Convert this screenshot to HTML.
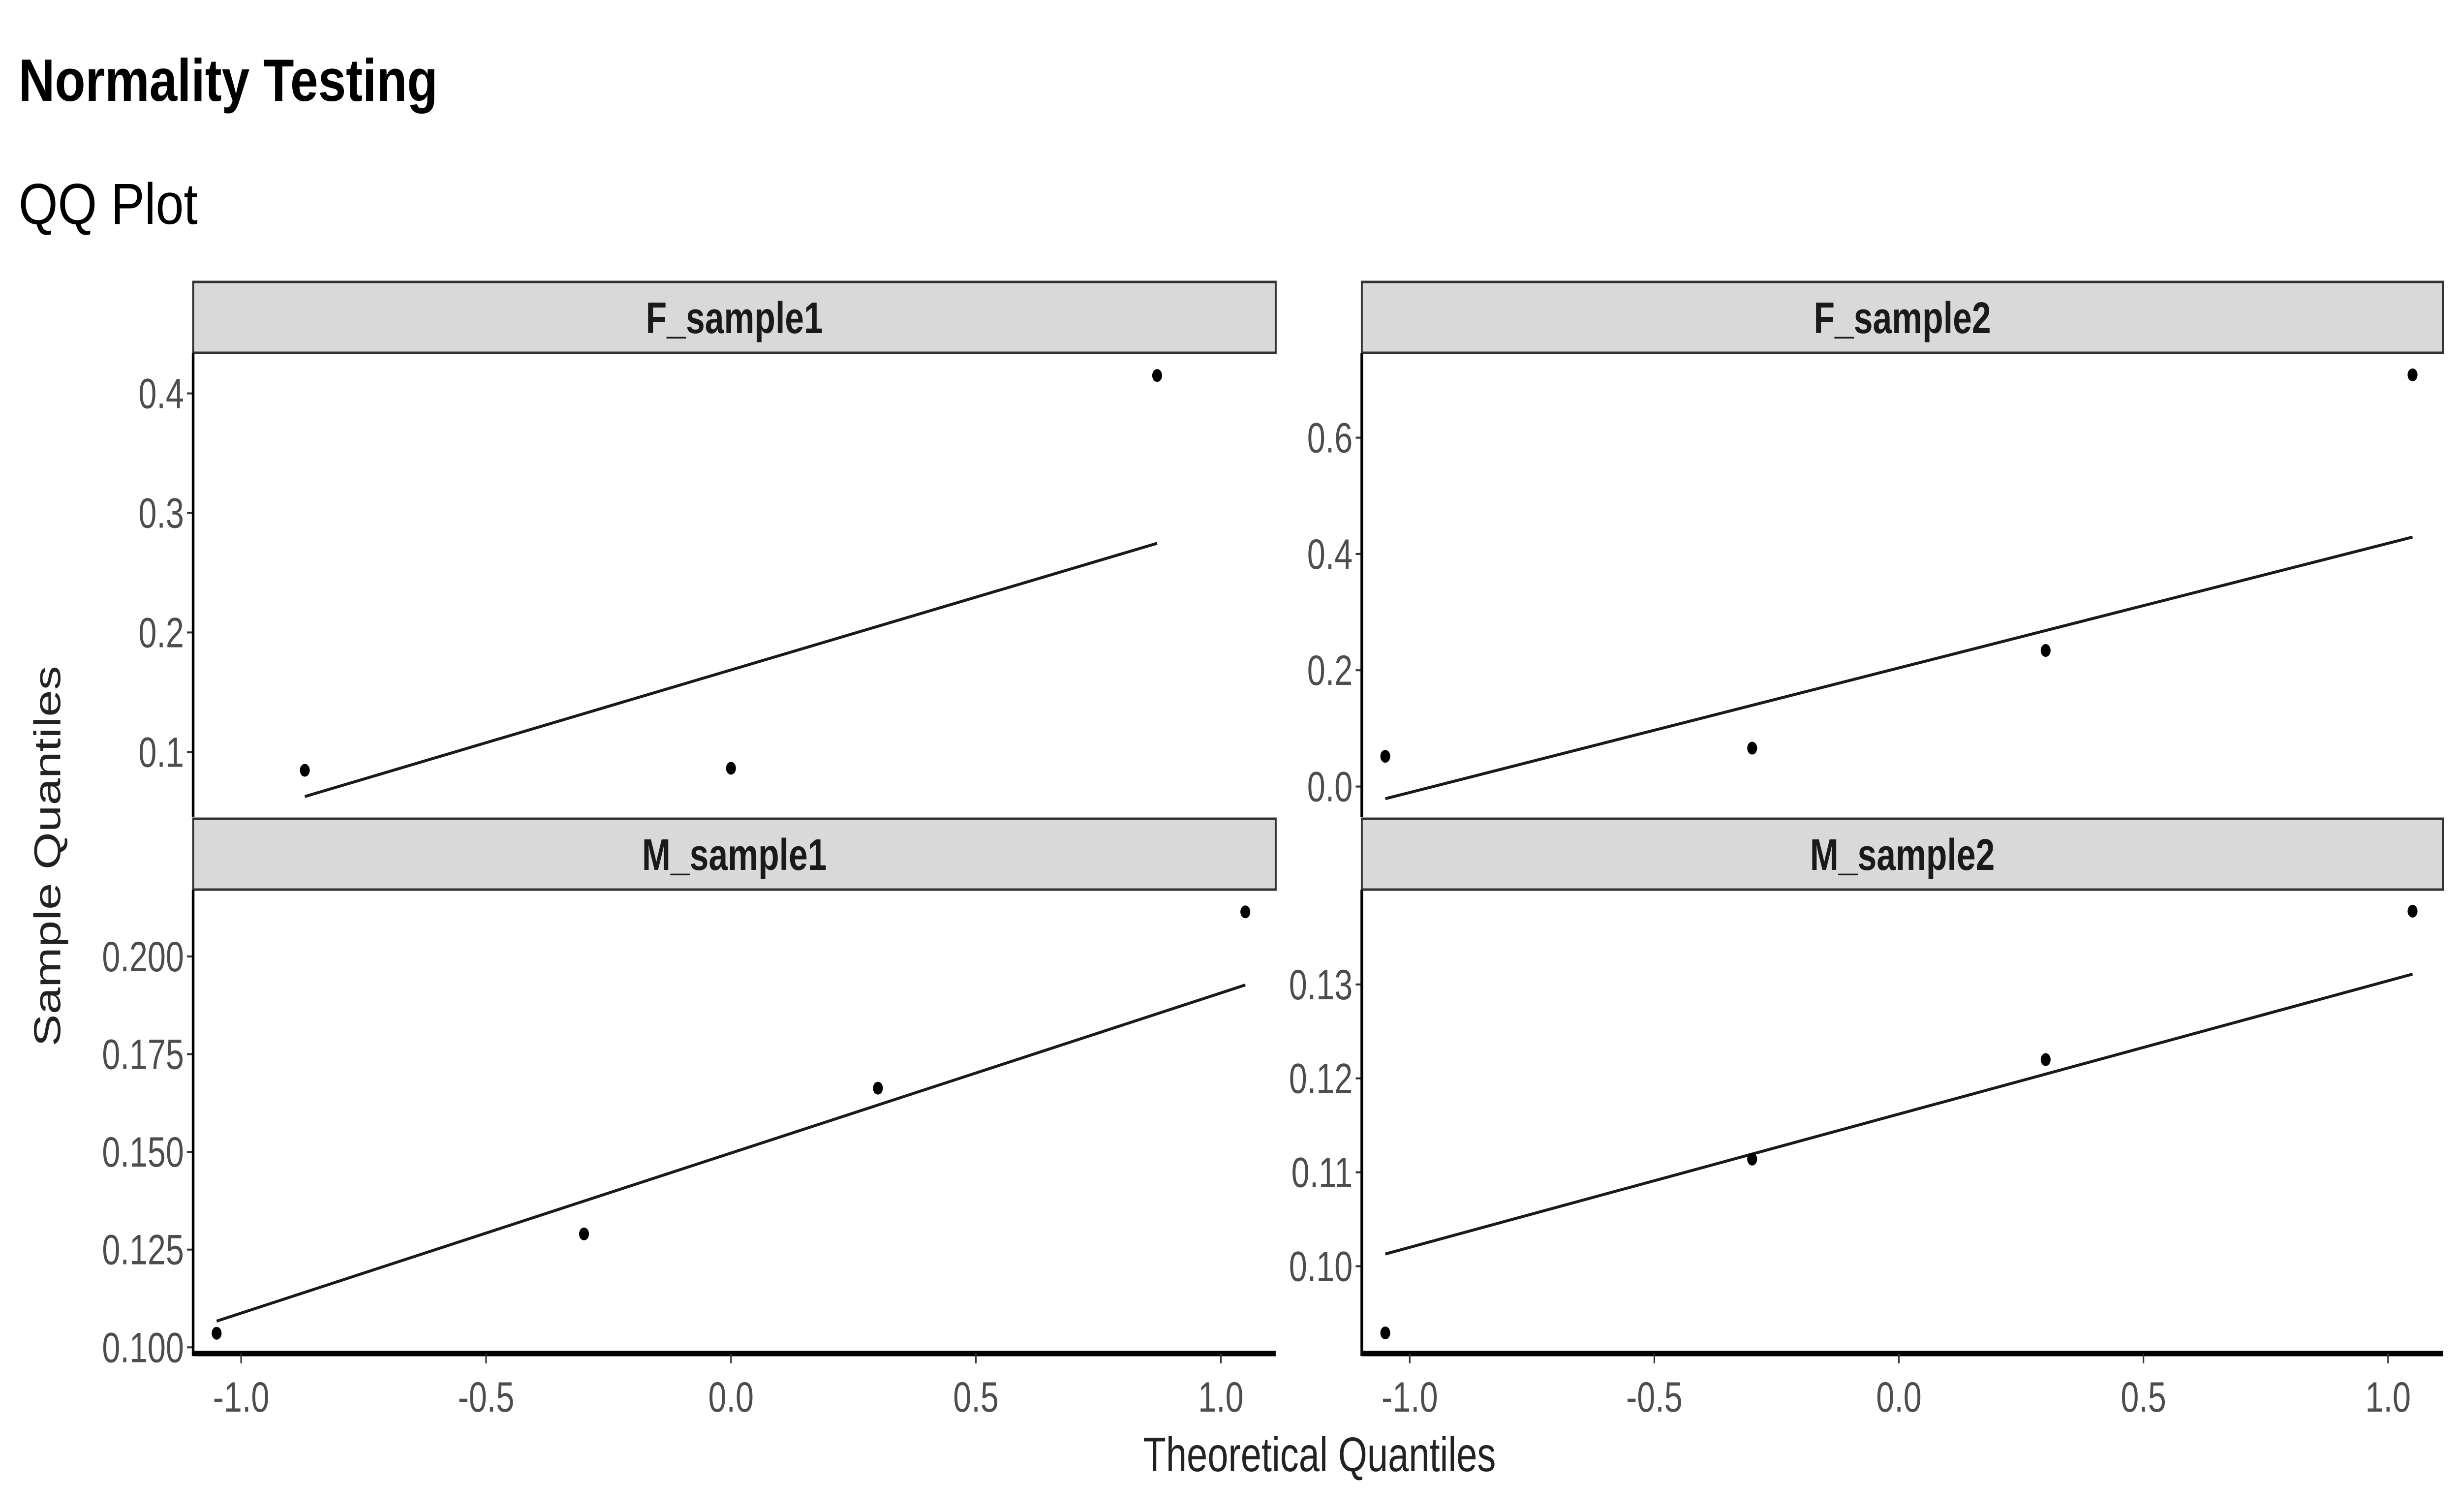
<!DOCTYPE html>
<html><head><meta charset="utf-8"><style>
html,body{margin:0;padding:0;background:#fff;overflow:hidden;width:100%;height:100%;}
svg{display:block;position:fixed;left:0;top:0;width:100vw;height:100vh;}
</style></head><body>
<svg id="chart" viewBox="0 0 6458 3073" preserveAspectRatio="none" xmlns="http://www.w3.org/2000/svg" font-family="Liberation Sans, sans-serif">
<rect width="6458" height="3073" fill="#fff"/>
<text x="49" y="205" font-size="122" font-weight="bold" fill="#000" textLength="1100" lengthAdjust="spacingAndGlyphs">Normality Testing</text>
<text x="49" y="455" font-size="118" fill="#000" textLength="470" lengthAdjust="spacingAndGlyphs">QQ Plot</text>
<text x="0" y="0" font-size="98" fill="#222" text-anchor="middle" transform="translate(158,1740) rotate(-90)">Sample Quantiles</text>
<text x="3464" y="2990" font-size="98" fill="#222" text-anchor="middle">Theoretical Quantiles</text>
<g id="panels"></g>
</svg>
<script>
// ---- data ----
const panelNames = ["F_sample1", "F_sample2", "M_sample1", "M_sample2"];
const xTicks = [-1.0, -0.5, 0.0, 0.5, 1.0];
const xTickLabels = ["-1.0", "-0.5", "0.0", "0.5", "1.0"];
const f1Theoretical = [-0.87, 0.0, 0.87];
const f1Sample = [0.0847, 0.0864, 0.415];
const f1Line = [0.0627, 0.2746];
const f1YTicks = [0.1, 0.2, 0.3, 0.4];
const f1YLabels = ["0.1", "0.2", "0.3", "0.4"];
const f2Theoretical = [-1.05, -0.30, 0.30, 1.05];
const f2Sample = [0.052, 0.066, 0.234, 0.708];
const f2Line = [-0.021, 0.429];
const f2YTicks = [0.0, 0.2, 0.4, 0.6];
const f2YLabels = ["0.0", "0.2", "0.4", "0.6"];
const m1Theoretical = [-1.05, -0.30, 0.30, 1.05];
const m1Sample = [0.1036, 0.129, 0.1663, 0.2114];
const m1Line = [0.1067, 0.1927];
const m1YTicks = [0.100, 0.125, 0.150, 0.175, 0.200];
const m1YLabels = ["0.100", "0.125", "0.150", "0.175", "0.200"];
const m2Theoretical = [-1.05, -0.30, 0.30, 1.05];
const m2Sample = [0.0929, 0.1114, 0.1220, 0.1378];
const m2Line = [0.1013, 0.1311];
const m2YTicks = [0.10, 0.11, 0.12, 0.13];
const m2YLabels = ["0.10", "0.11", "0.12", "0.13"];

const NS = "http://www.w3.org/2000/svg";
const root = document.getElementById("panels");
function mk(tag, attrs, parent) {
  const e = document.createElementNS(NS, tag);
  for (const k in attrs) e.setAttribute(k, attrs[k]);
  parent.appendChild(e);
  return e;
}
const xDomain = [-1.098, 1.112];
const panels = [
  {name: panelNames[0], x0: 507, x1: 3349, s0: 573, y0: 717, y1: 1660, dom: [0.0458, 0.434], tx: f1Theoretical, ty: f1Sample, line: f1Line, yt: f1YTicks, yl: f1YLabels, bottom: false},
  {name: panelNames[1], x0: 3575, x1: 6413, s0: 573, y0: 717, y1: 1660, dom: [-0.052, 0.746], tx: f2Theoretical, ty: f2Sample, line: f2Line, yt: f2YTicks, yl: f2YLabels, bottom: false},
  {name: panelNames[2], x0: 507, x1: 3349, s0: 1664, y0: 1808, y1: 2751, dom: [0.0984, 0.2171], tx: m1Theoretical, ty: m1Sample, line: m1Line, yt: m1YTicks, yl: m1YLabels, bottom: true},
  {name: panelNames[3], x0: 3575, x1: 6413, s0: 1664, y0: 1808, y1: 2751, dom: [0.0907, 0.1401], tx: m2Theoretical, ty: m2Sample, line: m2Line, yt: m2YTicks, yl: m2YLabels, bottom: true}
];
panels.forEach(p => {
  const g = mk("g", {}, root);
  
  
  const sx = v => p.x0 + (v - xDomain[0]) / (xDomain[1] - xDomain[0]) * (p.x1 - p.x0);
  const sy = v => p.y1 - (v - p.dom[0]) / (p.dom[1] - p.dom[0]) * (p.y1 - p.y0);
  const strip = mk("rect", {x: p.x0, y: p.s0, width: p.x1 - p.x0, height: p.y0 - p.s0, fill: "#d9d9d9", stroke: "#333", "stroke-width": 5}, g);
  
  
  const st = mk("text", {x: (p.x0 + p.x1) / 2, y: p.s0 + 104, "font-size": 90, "font-weight": "bold", fill: "#1a1a1a", "text-anchor": "middle"}, g);
  st.textContent = p.name;
  
  
  p.yt.forEach((v, i) => {
    const y = sy(v);
    const tk = mk("line", {x1: p.x0 - 16, x2: p.x0, y1: y, y2: y, stroke: "#333", "stroke-width": 4}, g);
    
    
    const t = mk("text", {x: p.x0 - 24, y: y + 30, "font-size": 86, fill: "#4d4d4d", "text-anchor": "end"}, g);
    t.textContent = p.yl[i];
    
    
  });
  const ya = mk("line", {x1: p.x0, x2: p.x0, y1: p.y0, y2: p.y1 + (p.bottom ? 5 : 0), stroke: "#000", "stroke-width": 7}, g);
  
  
  if (p.bottom) {
    const xa = mk("line", {x1: p.x0, x2: p.x1, y1: p.y1, y2: p.y1, stroke: "#000", "stroke-width": 11}, g);
    
    
    xTicks.forEach((v, i) => {
      const x = sx(v);
      const tk = mk("line", {x1: x, x2: x, y1: p.y1, y2: p.y1 + 20, stroke: "#333", "stroke-width": 4}, g);
      
      
      const t = mk("text", {x: x, y: p.y1 + 118, "font-size": 86, fill: "#4d4d4d", "text-anchor": "middle"}, g);
      t.textContent = xTickLabels[i];
      
      
    });
  }
  const lx0 = p.tx[0], lx1 = p.tx[p.tx.length - 1];
  const ln = mk("line", {x1: sx(lx0), y1: sy(p.line[0]), x2: sx(lx1), y2: sy(p.line[1]), stroke: "#1a1a1a", "stroke-width": 6}, g);
  
  
  p.tx.forEach((v, i) => {
    const c = mk("circle", {cx: sx(v), cy: sy(p.ty[i]), r: 13, fill: "#000"}, g);
    
    
  });
});
</script>
</body></html>
